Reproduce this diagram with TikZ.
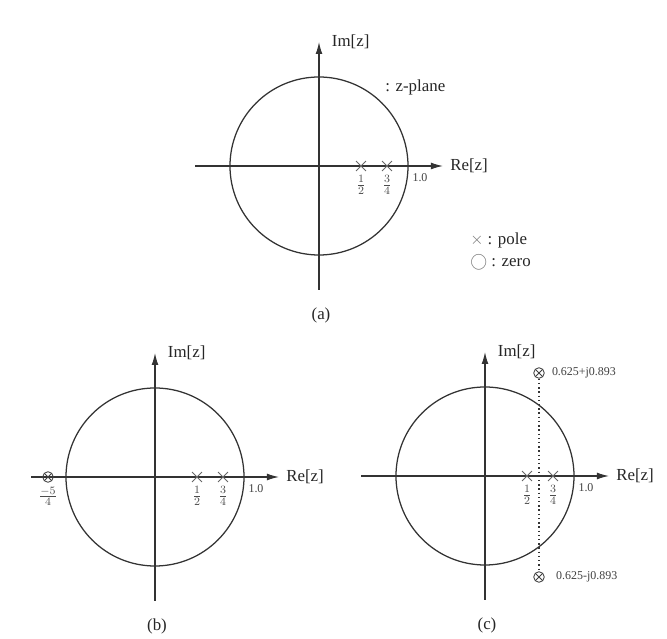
\documentclass[tikz,border=0pt]{standalone}
\usepackage{fontspec}
\setmainfont{Liberation Serif}
\usetikzlibrary{arrows.meta, positioning, shapes.misc}

\begin{document}
\begin{tikzpicture}[x=0.025cm, y=0.025cm,
    ink/.style={draw=black!80, line width=0.9pt},
    axis/.style={draw=black!80, line width=0.8pt, -{Latex[length=3mm,width=1.7mm]}},
    lbl/.style={inner sep=0pt, text=black!85, font=\fontsize{12}{14}\selectfont},
    small/.style={inner sep=0pt, text=black!75, font=\fontsize{8.5}{10}\selectfont},
    frac/.style={inner sep=0pt, text=black!70, font=\fontsize{11}{12}\selectfont},
    pole/.style={cross out, draw=black!60, line width=0.6pt, minimum size=6.5pt, inner sep=0pt},
    zero/.style={circle, draw=black!75, line width=0.6pt, minimum size=7.5pt, inner sep=0pt,
      path picture={\draw[black!75, line width=0.6pt]
        (path picture bounding box.north west) -- (path picture bounding box.south east)
        (path picture bounding box.north east) -- (path picture bounding box.south west);}}]
  \useasboundingbox (0,0) rectangle (667,639);

  % the three z-planes
  \foreach \p/\cx/\cy in {a/319/473, b/155/162, c/485/163} {
    \begin{scope}[shift={(\cx,\cy)}]
      \draw[ink] (0,0) circle[radius=89];
      \coordinate (\p-w) at (-124,0);
      \coordinate (\p-e) at (124,0);
      \coordinate (\p-s) at (0,-124);
      \coordinate (\p-n) at (0,124);
      \draw[axis] (\p-w) -- (\p-e);
      \draw[axis] (\p-s) -- (\p-n);
      \node[lbl, right=5pt of \p-e] (\p-re) {Re[z]};
      \node[lbl, right=9pt of \p-n] (\p-im) {Im[z]};
      \node[pole] (\p-half) at (42,0) {};
      \node[pole] (\p-tq) at (68,0) {};
      \node[frac, below=3pt of \p-half] {$\frac{1}{2}$};
      \node[frac, below=3pt of \p-tq] {$\frac{3}{4}$};
      \node[small] (\p-one) at (101,-12) {1.0};
      \node[lbl] (\p-cap) at (2,-149) {(\p)};
    \end{scope}
  }

  % (a) plane and legend
  \node[lbl, anchor=west] (zpl) at (385,552) {: z-plane};
  \node[lbl, anchor=west] (leg-p) at (470,399) {{\color{black!55}\large$\times$} : pole};
  \node[lbl, below=5pt of leg-p.south west, anchor=north west] (leg-z)
    {{\color{black!55}$\bigcirc$} : zero};

  % (b) zero at -5/4
  \node[zero] (b-zero) at (48,162) {};
  \node[frac, below=3pt of b-zero] {$\frac{-5}{4}$};

  % (c) complex pair of zeros
  \node[zero] (c-z1) at (539,266) {};
  \node[zero] (c-z2) at (539,62) {};
  \draw[black!80, line width=1pt, dotted] (c-z1) -- (c-z2);
  \node[small, right=5pt of c-z1] {0.625+j0.893};
  \node[small, right=8pt of c-z2] {0.625-j0.893};
\end{tikzpicture}
\end{document}
